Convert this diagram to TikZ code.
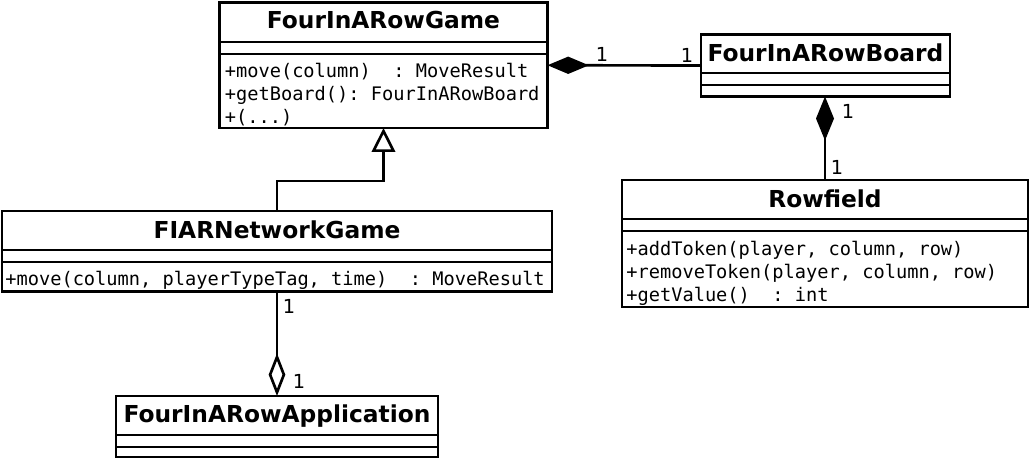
\documentclass[tikz,border=0pt]{standalone}
\usepackage{fontspec}
\setmainfont{DejaVu Sans}
\setmonofont{DejaVu Sans Mono}
\usepackage{tikz}
\usetikzlibrary{arrows.meta,calc,positioning}

\begin{document}
\begin{tikzpicture}[x=0.75pt,y=-0.75pt,line width=2pt,
  classbox/.style={draw,anchor=north west,inner sep=0pt,outer sep=0pt},
  classname/.style={anchor=base,inner sep=0pt,font=\bfseries\fontsize{17.5}{20}\selectfont},
  member/.style={anchor=base west,inner sep=0pt,font=\ttfamily\fontsize{14}{17}\selectfont},
  mult/.style={inner sep=0pt,font=\fontsize{14.5}{16}\selectfont}]
\useasboundingbox (0,0) rectangle (1031,461);

% classes
\node[classbox,minimum width=246pt,minimum height=94.1pt] (game) at (219.5,2.5) {};
\node[classname] (gametitle) at ($(game.north)+(0,25.5)$) {FourInARowGame};
\draw ($(game.north west)+(0,39.5)$) -- ($(game.north east)+(0,39.5)$);
\draw ($(game.north west)+(0,51.5)$) -- ($(game.north east)+(0,51.5)$);
\node[member] (gamemove) at ($(game.north west)+(4,75)$) {+move(column)~~: MoveResult};
\node[member] (gameboard) at ($(game.north west)+(4,98)$) {+getBoard(): FourInARowBoard};
\node[member] (gamemore) at ($(game.north west)+(4,121)$) {+(...)};

\node[classbox,minimum width=186.75pt,minimum height=46.5pt] (board) at (701,34.5) {};
\node[classname] (boardtitle) at ($(board.north)+(0,26.5)$) {FourInARowBoard};
\draw ($(board.north west)+(0,38.5)$) -- ($(board.north east)+(0,38.5)$);
\draw ($(board.north west)+(0,50.5)$) -- ($(board.north east)+(0,50.5)$);

\node[classbox,minimum width=304.5pt,minimum height=95.25pt] (rowfield) at (622,180) {};
\node[classname] (rowfieldtitle) at ($(rowfield.north)+(0,27)$) {Rowfield};
\draw ($(rowfield.north west)+(0,39)$) -- ($(rowfield.north east)+(0,39)$);
\draw ($(rowfield.north west)+(0,51)$) -- ($(rowfield.north east)+(0,51)$);
\node[member] (rowadd) at ($(rowfield.north west)+(3,75)$) {+addToken(player, column, row)};
\node[member] (rowremove) at ($(rowfield.north west)+(3,98)$) {+removeToken(player, column, row)};
\node[member] (rowvalue) at ($(rowfield.north west)+(3,121)$) {+getValue()~~: int};

\node[classbox,minimum width=412.5pt,minimum height=60.4pt] (fiar) at (2,211) {};
\node[classname] (fiartitle) at ($(fiar.north)+(0,27)$) {FIARNetworkGame};
\draw ($(fiar.north west)+(0,39)$) -- ($(fiar.north east)+(0,39)$);
\draw ($(fiar.north west)+(0,51)$) -- ($(fiar.north east)+(0,51)$);
\node[member] (fiarmove) at ($(fiar.north west)+(2,74)$) {+move(column, playerTypeTag, time)~~: MoveResult};

\node[classbox,minimum width=241.5pt,minimum height=45.75pt] (app) at (116,396) {};
\node[classname] (apptitle) at ($(app.north)+(0,26)$) {FourInARowApplication};
\draw ($(app.north west)+(0,39)$) -- ($(app.north east)+(0,39)$);
\draw ($(app.north west)+(0,51)$) -- ($(app.north east)+(0,51)$);

% relations
\draw[-{Diamond[length=31pt,width=13pt]}] (board.west) -- (game.east);
\node[mult] (gameone) at ($(game.east)+(54.5,-10.5)$) {1};
\node[mult] (boardone) at ($(board.west)+(-14,-10.5)$) {1};

\draw[-{Diamond[length=33pt,width=13.5pt]}] (rowfield.north) -- (rowfield.north |- board.south);
\node[mult] (boardlow) at ($(board.south)+(22.5,14.5)$) {1};
\node[mult] (rowfieldone) at ($(rowfield.north)+(12,-13)$) {1};

\draw[-{Triangle[open,length=18pt,width=17.5pt]}] (fiar.north) -- ++(0,-30) -| (game.south);

\draw[-{Diamond[open,length=32pt,width=12.5pt]}] (fiar.south) -- (app.north);
\node[mult] (fiarone) at ($(fiar.south)+(12,14.5)$) {1};
\node[mult] (appone) at ($(app.north)+(22,-15)$) {1};
\end{tikzpicture}
\end{document}
